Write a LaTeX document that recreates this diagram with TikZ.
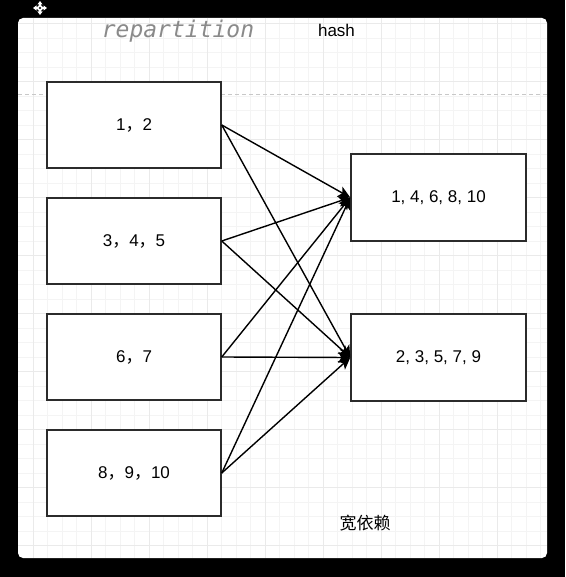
\documentclass[tikz,border=0pt]{standalone}
\usepackage{fontspec}
\setmainfont{Liberation Sans}
\newfontfamily\cjk{Noto Sans CJK SC}
\newfontfamily\monoit{DejaVu Sans Mono Oblique}
\usetikzlibrary{arrows.meta}
\definecolor{gridminor}{HTML}{F4F4F4}
\definecolor{gridmajor}{HTML}{EAEAEA}
\definecolor{boxline}{HTML}{2B2B2B}
\definecolor{titlegray}{HTML}{8A8A8A}
\definecolor{dashgray}{HTML}{C8C8C8}
\tikzset{
  part/.style={draw=boxline, line width=1.5pt, fill=white, minimum width=174pt, minimum height=86pt, inner sep=0pt, font=\fontsize{17}{20}\selectfont},
  flow/.style={line width=1.4pt, black, -{Stealth[length=12pt,width=11pt,inset=3pt]}},
  lbl/.style={font=\fontsize{17}{20}\selectfont, inner sep=0pt}
}
\newcommand{\fc}{{\cjk ，}}
\begin{document}
\begin{tikzpicture}[x=1pt,y=-1pt]
\useasboundingbox (0,0) rectangle (565,577);
\fill[black] (0,0) rectangle (565,577);
\fill[white, rounded corners=5pt] (18,18) rectangle (547,558);
\begin{scope}
\clip (18,18) rectangle (547,558);
\foreach \i in {0,...,36} {
  \pgfmathsetmacro{\xx}{33+14.5*\i}
  \draw[gridminor, line width=0.8pt] (\xx,18) -- (\xx,558);
}
\foreach \i in {0,...,37} {
  \pgfmathsetmacro{\yy}{23.5+14.5*\i}
  \draw[gridminor, line width=0.8pt] (18,\yy) -- (547,\yy);
}
\foreach \i in {0,...,9} {
  \pgfmathsetmacro{\xx}{33+58*\i}
  \draw[gridmajor, line width=0.8pt] (\xx,18) -- (\xx,558);
  \pgfmathsetmacro{\yy}{23.5+58*\i}
  \draw[gridmajor, line width=0.8pt] (18,\yy) -- (547,\yy);
}
\end{scope}
\coordinate (dashL) at (18,94.5);
\coordinate (dashR) at (547,94.5);
\draw[dashgray, line width=0.9pt, dash pattern=on 4pt off 3pt] (dashL) -- (dashR);
% move icon
\coordinate (mc) at (40,8);
\draw[white, line width=1.6pt, {Triangle[length=3.5pt,width=5pt]}-{Triangle[length=3.5pt,width=5pt]}] (33,8) -- (47,8);
\draw[white, line width=1.6pt, {Triangle[length=3.5pt,width=5pt]}-{Triangle[length=3.5pt,width=5pt]}] (40,1) -- (40,15);
\fill[white] (mc) circle (3pt);
\fill[black] (mc) circle (1.2pt);
% titles
\node[font=\monoit\fontsize{23}{26}\selectfont, text=titlegray, inner sep=0pt] (title) at (178,31) {repartition};
\node[lbl] (hash) at (336.5,30) {hash};
\node[lbl, font=\cjk\fontsize{17}{20}\selectfont] (wide) at (365,523) {宽依赖};
% boxes
\node[part] (L1) at (134,125) {1\fc2};
\node[part] (L2) at (134,241) {3\fc4\fc5};
\node[part] (L3) at (134,357) {6\fc7};
\node[part] (L4) at (134,473) {8\fc9\fc10};
\node[part, minimum width=175pt, minimum height=87pt] (R1) at (438.5,197.5) {1, 4, 6, 8, 10};
\node[part, minimum width=175pt, minimum height=87pt] (R2) at (438.5,357.5) {2, 3, 5, 7, 9};
% connectors
\foreach \s in {L1,L2,L3,L4} {
  \draw[flow] (\s.east) -- (R1.west);
  \draw[flow] (\s.east) -- (R2.west);
}
\end{tikzpicture}
\end{document}
